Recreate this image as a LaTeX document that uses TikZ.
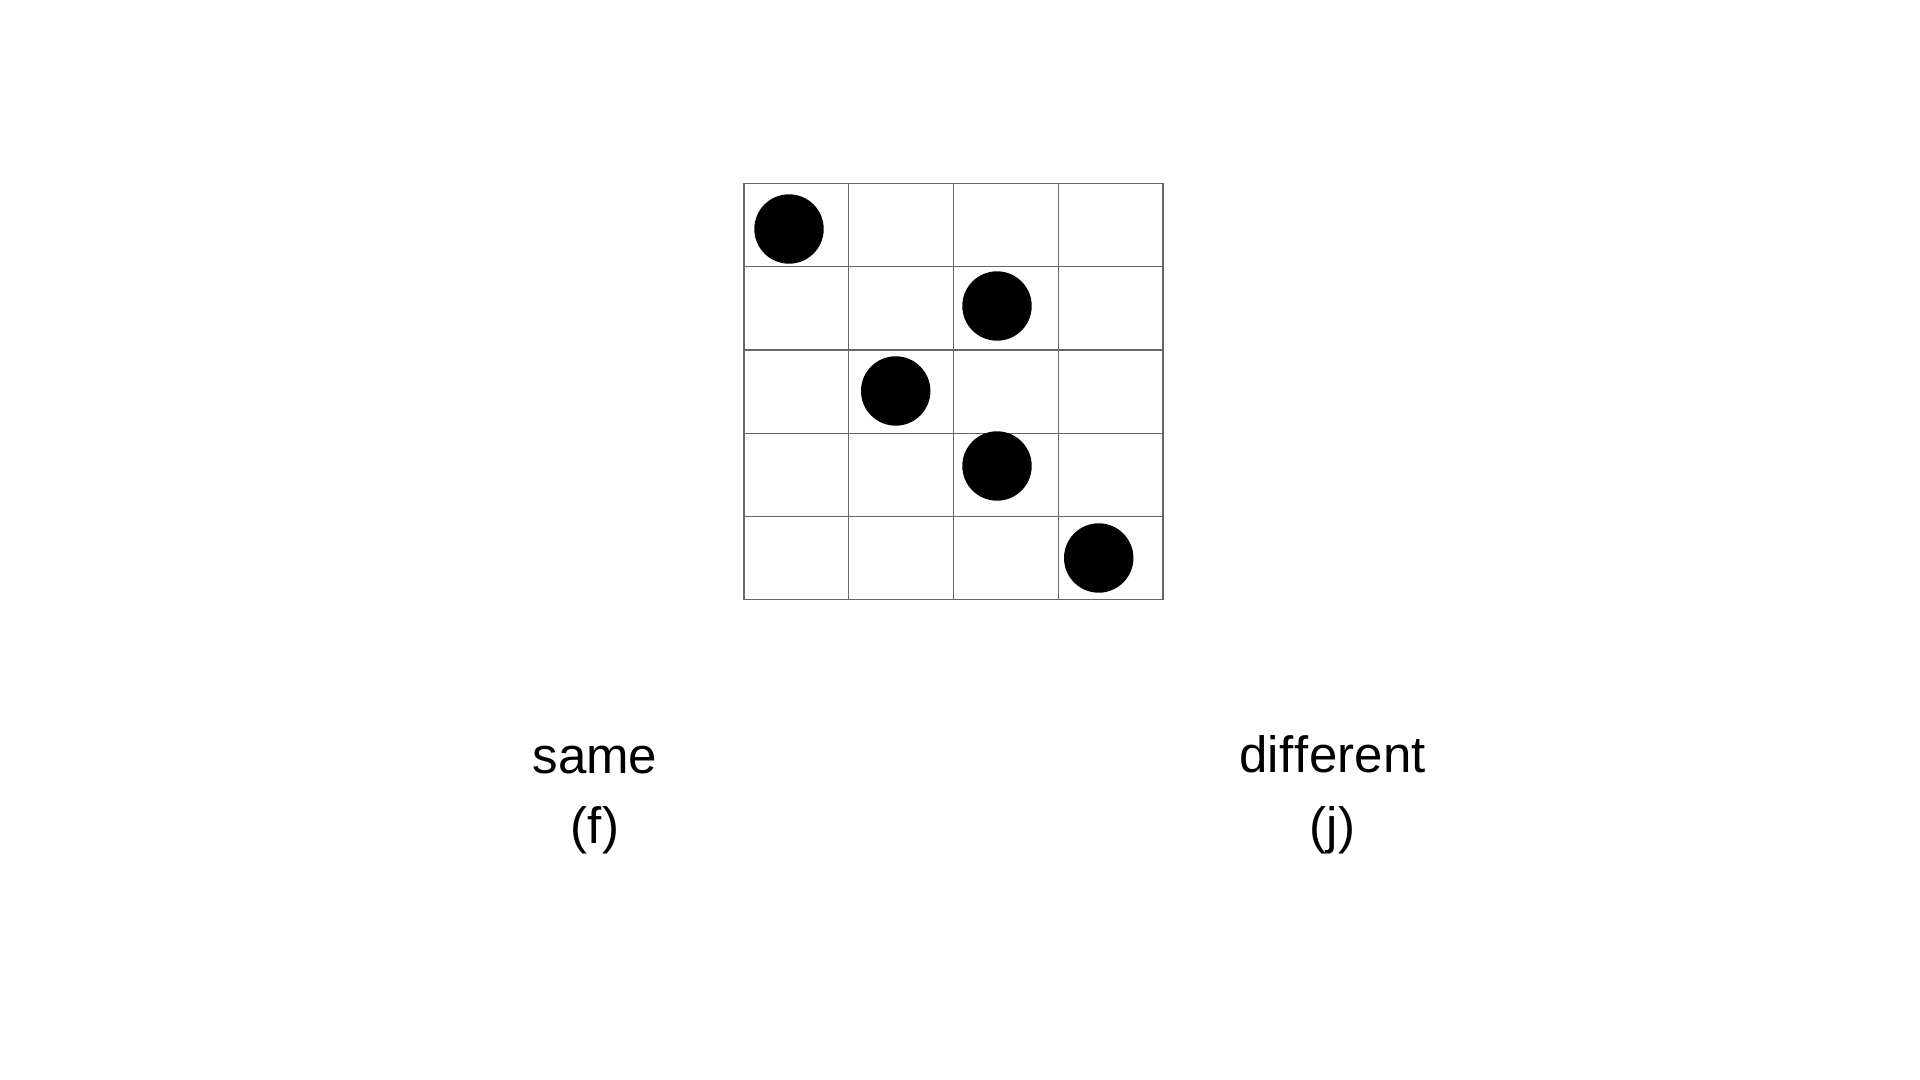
\documentclass[tikz,border=0pt]{standalone}
\usepackage{fontspec}
\setmainfont[Ligatures=NoCommon]{Liberation Sans}
\begin{document}
\begin{tikzpicture}[x=0.5pt,y=-0.5pt,
  gridline/.style={draw=black!60,line width=0.6pt},
  dot/.style={circle,fill=black,draw=none,minimum size=34.7pt,inner sep=0pt},
  lbl/.style={anchor=base,font=\fontsize{25.5pt}{30pt}\selectfont,inner sep=0pt}]
\useasboundingbox (0,0) rectangle (1920,1080);
% grid
\foreach \xx in {744,848.7,953.3,1058.3,1163} \draw[gridline] (\xx,183.3) -- (\xx,599.7);
\foreach \yy in {183.3,266.7,350,433.3,516.7,599.7} \draw[gridline] (744,\yy) -- (1163,\yy);
% dots
\node[dot] (d1) at (789,229) {};
\node[dot] (d2) at (997,306) {};
\node[dot] (d3) at (895.7,391) {};
\node[dot] (d4) at (997,466) {};
\node[dot] (d5) at (1098.7,558) {};
% labels
\node[lbl] (same) at (595,773) {same};
\node[lbl] (f) at (595,843) {(f)};
\node[lbl] (diff) at (1332.5,772) {dif\kern0.5pt f\kern0.5pt erent};
\node[lbl] (j) at (1332.5,843) {(j)};
\end{tikzpicture}
\end{document}
